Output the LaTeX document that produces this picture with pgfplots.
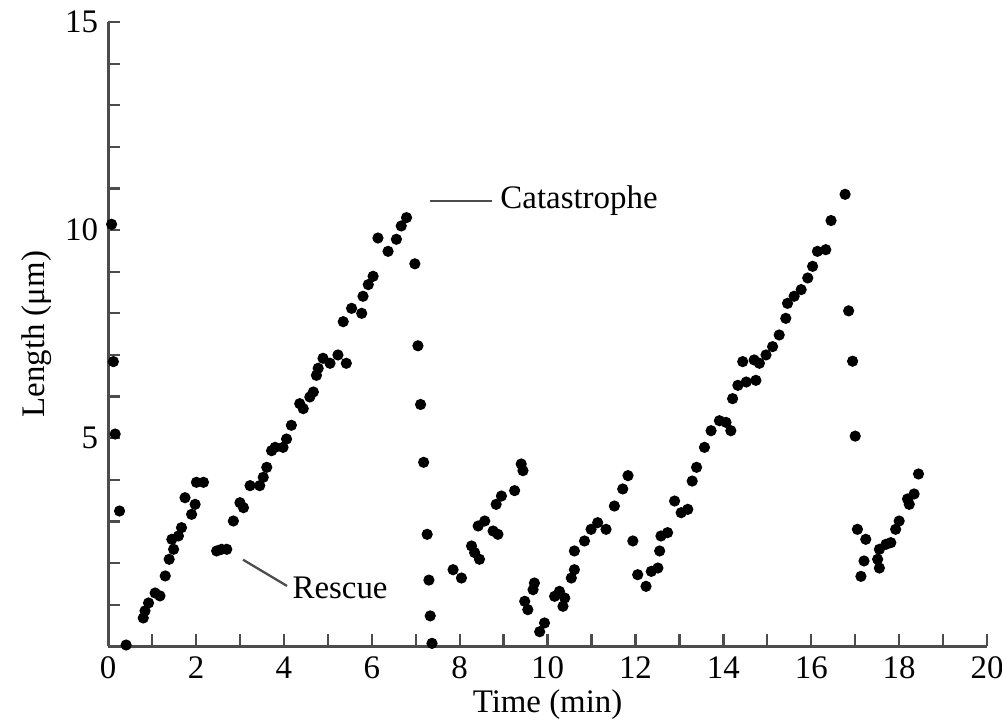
\documentclass[border=0pt]{standalone}
\usepackage{fontspec}
\setmainfont{Liberation Serif}
\usepackage{pgfplots}
\pgfplotsset{compat=1.18}

\begin{document}
\begin{tikzpicture}[font=\fontsize{11.5}{13.5}\selectfont]
\begin{axis}[
  scale only axis,width=10.8cm,height=7.67cm,
  xmin=0,xmax=20,ymin=0,ymax=15,
  axis lines*=left,
  axis line style={black!70,line width=1pt},
  xtick={0,2,...,20},minor xtick={1,3,...,19},
  ytick={5,10,15},minor ytick={1,2,3,4,6,7,8,9,11,12,13,14},
  major tick length=0.15cm,minor tick length=0.15cm,
  tick style={black!70,line width=0.8pt},
  tick label style={font=\fontsize{11.5}{13.5}\selectfont},
  label style={font=\fontsize{11.5}{13.5}\selectfont},
  /pgf/number format/assume math mode=true,
  xlabel={Time (min)},ylabel={Length (μm)},
  xlabel style={yshift=3pt},
  ylabel style={yshift=-2pt},
  clip=false,
]
\addplot[only marks,mark=*,mark size=1.75pt,black] coordinates {
% first shrinking
(0.08,10.14) (0.12,6.84) (0.16,5.10) (0.26,3.25) (0.41,0.03)
% growth 1
(0.80,0.68) (0.84,0.85) (0.92,1.04) (1.07,1.28) (1.18,1.21) (1.30,1.69)
(1.39,2.09) (1.49,2.33) (1.45,2.57) (1.60,2.65) (1.67,2.85) (1.75,3.57)
(1.90,3.17) (1.98,3.41) (2.01,3.94) (2.17,3.94)
% rescue
(2.47,2.29) (2.58,2.33) (2.70,2.33)
% growth 2
(2.85,3.01) (3.00,3.45) (3.08,3.33) (3.23,3.86) (3.45,3.86) (3.53,4.06)
(3.61,4.30) (3.72,4.70) (3.80,4.78) (3.98,4.78) (4.06,4.98) (4.17,5.31)
(4.36,5.83) (4.44,5.71) (4.59,5.99) (4.67,6.11) (4.74,6.51) (4.78,6.68)
(4.89,6.92) (5.05,6.80) (5.23,7.00) (5.42,6.80) (5.35,7.80) (5.54,8.12)
(5.77,8.00) (5.80,8.41) (5.92,8.69) (6.03,8.89) (6.14,9.81) (6.37,9.49)
(6.56,9.78) (6.67,10.10) (6.79,10.30)
% catastrophe 1
(6.98,9.19) (7.05,7.22) (7.11,5.81) (7.18,4.42) (7.26,2.69) (7.30,1.59)
(7.33,0.73) (7.37,0.07)
% growth 3
(7.85,1.84) (8.04,1.64) (8.27,2.41) (8.34,2.25) (8.45,2.09) (8.42,2.89)
(8.57,3.01) (8.76,2.77) (8.87,2.69) (8.83,3.41) (8.95,3.61) (9.25,3.74)
(9.40,4.38) (9.44,4.22)
% shrink
(9.48,1.08) (9.55,0.88) (9.67,1.36) (9.70,1.52) (9.82,0.35) (9.93,0.56)
% growth 4
(10.16,1.20) (10.27,1.32) (10.35,0.96) (10.39,1.16) (10.54,1.64) (10.61,1.84)
(10.61,2.29) (10.84,2.53) (10.99,2.81) (11.14,2.97) (11.33,2.81) (11.52,3.37)
(11.71,3.78) (11.83,4.10)
% growth 5
(11.94,2.53) (12.05,1.72) (12.24,1.44) (12.36,1.80) (12.51,1.88) (12.55,2.29)
(12.58,2.65) (12.73,2.73) (12.89,3.49) (13.04,3.21) (13.19,3.29) (13.29,3.97)
(13.39,4.30) (13.57,4.78) (13.72,5.18) (13.91,5.42) (14.06,5.38) (14.17,5.18)
(14.21,5.95) (14.33,6.27) (14.52,6.35) (14.74,6.39) (14.44,6.84) (14.70,6.88)
(14.82,6.80) (14.97,7.00) (15.12,7.20) (15.27,7.48) (15.42,7.88) (15.46,8.24)
(15.61,8.41) (15.77,8.57) (15.92,8.85) (16.03,9.13) (16.14,9.49) (16.33,9.53)
(16.45,10.23) (16.77,10.86)
% catastrophe 2
(16.85,8.06) (16.94,6.85) (17.00,5.05)
% growth 6
(17.05,2.81) (17.24,2.57) (17.13,1.68) (17.20,2.05) (17.55,2.33) (17.55,1.88)
(17.51,2.09) (17.70,2.45) (17.81,2.49) (17.92,2.81) (18.00,3.01) (18.19,3.54)
(18.34,3.66) (18.23,3.41) (18.44,4.14)
};
\draw[black!70,line width=0.8pt] (axis cs:7.32,10.70) -- (axis cs:8.73,10.70);
\node[anchor=west,inner sep=1pt] at (axis cs:8.85,10.70) {Catastrophe};
\draw[black!70,line width=0.8pt] (axis cs:3.07,2.08) -- (axis cs:4.07,1.45);
\node[anchor=west,inner sep=1pt] at (axis cs:4.12,1.40) {Rescue};
\coordinate (bl) at (axis cs:-2.46,-1.93);
\coordinate (tr) at (axis cs:20.34,15.53);
\end{axis}
\pgfresetboundingbox
\useasboundingbox (bl) rectangle (tr);
\end{tikzpicture}
\end{document}
